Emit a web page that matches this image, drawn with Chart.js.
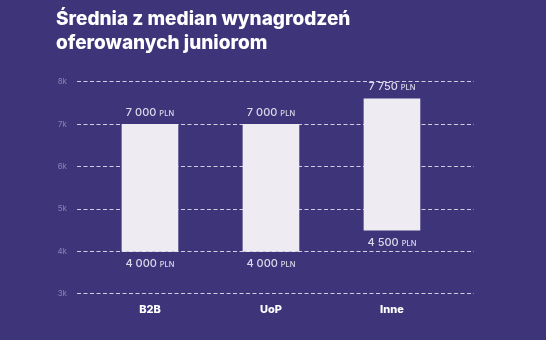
<!DOCTYPE html>
<html>
<head>
<meta charset="utf-8">
<script src="https://cdn.jsdelivr.net/npm/chart.js@4/dist/chart.umd.min.js"></script>
<style>
  html, body { margin: 0; padding: 0; background: #3d3479; }
  #wrap { width: 546px; height: 340px; }
</style>
</head>
<body>
<div id="wrap"><canvas id="c" width="546" height="340"></canvas></div>
<script>
const titleLines = ['Średnia z median wynagrodzeń', 'oferowanych juniorom'];
const categories = ['B2B', 'UoP', 'Inne'];
// values printed on the labels
const lowLabels = [4000, 4000, 4500];
const highLabels = [7000, 7000, 7750];
// bar extents as drawn in the picture
const lowValues = [4000, 4000, 4500];
const highValues = [7000, 7000, 7600];
const yTicks = [3000, 4000, 5000, 6000, 7000, 8000];
const yTickLabels = ['3k', '4k', '5k', '6k', '7k', '8k'];
const unit = 'PLN';

const fmt = v => String(v).replace(/\B(?=(\d{3})+(?!\d))/g, ' ');

const labelPlugin = {
  id: 'rangeLabels',
  afterDatasetsDraw(chart) {
    const ctx = chart.ctx;
    const meta = chart.getDatasetMeta(0);
    meta.data.forEach((bar, i) => {
      const drawLabel = (value, cy) => {
        const num = fmt(value);
        ctx.save();
        ctx.textBaseline = 'alphabetic';
        ctx.fillStyle = '#ddd9ea';
        const f1 = '500 11px Inter, "Open Sans", sans-serif';
        const f2 = '500 7.5px Inter, "Open Sans", sans-serif';
        ctx.font = f1; const w1 = ctx.measureText(num + ' ').width;
        ctx.font = f2; const w2 = ctx.measureText(unit).width;
        const x0 = bar.x - (w1 + w2) / 2;
        const base = cy + 4;
        ctx.font = f1; ctx.textAlign = 'left';
        ctx.fillText(num, x0, base);
        ctx.font = f2;
        ctx.fillText(unit, x0 + w1, base);
        ctx.restore();
      };
      const top = Math.min(bar.y, bar.base);
      const bottom = Math.max(bar.y, bar.base);
      drawLabel(highLabels[i], top - 12.5);
      drawLabel(lowLabels[i], bottom + 12);
    });
  }
};

new Chart(document.getElementById('c'), {
  type: 'bar',
  data: {
    datasets: [{
      data: categories.map((c, i) => ({ x: i, y: [lowValues[i], highValues[i]] })),
      backgroundColor: '#efebf3',
      borderWidth: 0,
      barThickness: 56,
      grouped: false
    }]
  },
  plugins: [labelPlugin],
  options: {
    responsive: false,
    animation: false,
    layout: { padding: { left: 56, right: 72, top: 0, bottom: 15 } },
    plugins: {
      legend: { display: false },
      tooltip: { enabled: false },
      title: {
        display: true,
        text: titleLines,
        align: 'start',
        color: '#ffffff',
        font: { family: 'Inter, "Open Sans", sans-serif', size: 19, weight: '800', lineHeight: 1.263 },
        padding: { top: 7, bottom: 27 }
      }
    },
    scales: {
      x: {
        type: 'linear',
        offset: false,
        min: -0.603,
        max: 2.678,
        grid: { display: false, drawTicks: false },
        border: { display: false },
        afterBuildTicks: s => { s.ticks = [0, 1, 2].map(v => ({ value: v })); },
        ticks: {
          padding: 9,
          color: '#ffffff',
          font: { family: 'Inter, "Open Sans", sans-serif', size: 11, weight: '800' },
          callback: v => categories[v] ?? ''
        }
      },
      y: {
        min: 3000,
        max: 8000,
        afterFit: s => { s.width = 21; },
        afterBuildTicks: s => { s.ticks = yTicks.map(v => ({ value: v })); },
        border: { display: false, dash: [4, 2.5] },
        grid: { color: 'rgba(236,232,246,0.85)', lineWidth: 1, drawTicks: false },
        ticks: {
          padding: 10,
          color: '#8a83b6',
          font: { family: 'Inter, "Open Sans", sans-serif', size: 8 },
          callback: (v) => yTickLabels[yTicks.indexOf(v)] ?? ''
        }
      }
    }
  }
});
</script>
</body>
</html>
